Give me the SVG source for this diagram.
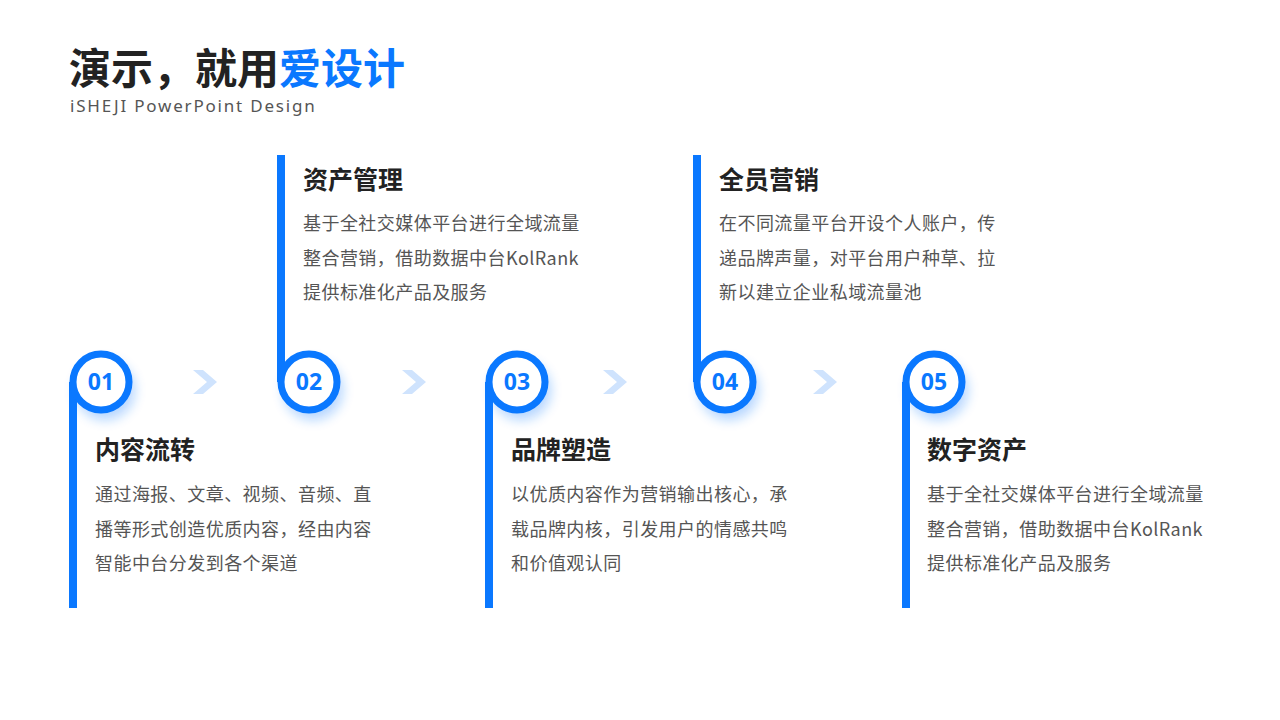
<svg xmlns="http://www.w3.org/2000/svg" width="1280" height="720" viewBox="0 0 1280 720">
<defs>
<style>
.t{font-family:"Noto Sans CJK SC","Noto Sans",sans-serif;font-weight:700;font-size:25px;fill:#222}
.b{font-family:"Noto Sans CJK SC","Noto Sans",sans-serif;font-size:18px;fill:#555;letter-spacing:0.45px}
.n{font-family:"Noto Sans","Noto Sans CJK SC",sans-serif;font-weight:700;font-size:23px;fill:#0a78ff}
.ring{fill:#fff;stroke:#0a78ff;stroke-width:7}
.bar{fill:#0a78ff}
.chev{fill:#cfe3fd}
</style>
<filter id="sh" x="-50%" y="-50%" width="200%" height="200%"><feGaussianBlur stdDeviation="6"/></filter>
</defs>
<rect width="1280" height="720" fill="#fff"/>
<text x="69" y="84" font-family="Noto Sans CJK SC,sans-serif" font-weight="700" font-size="42" fill="#222">演示，就用<tspan fill="#0a78ff">爱设计</tspan></text>
<text x="70" y="112" font-family="Noto Sans,sans-serif" font-size="17" fill="#555" letter-spacing="1.8">iSHEJI PowerPoint Design</text>
<g id="connectors">
<path class="chev" d="M193,370 h10 l14,12 l-14,12 h-10 l14,-12 z"/>
<path class="chev" d="M402,370 h10 l14,12 l-14,12 h-10 l14,-12 z"/>
<path class="chev" d="M603,370 h10 l14,12 l-14,12 h-10 l14,-12 z"/>
<path class="chev" d="M813,370 h10 l14,12 l-14,12 h-10 l14,-12 z"/>
</g>
<g id="n1">
<circle cx="105" cy="390" r="30" fill="#0a78ff" opacity="0.3" filter="url(#sh)"/>
<rect class="bar" x="69" y="382" width="8" height="226"/>
<circle class="ring" cx="101" cy="382" r="28"/>
<text class="n" x="101" y="390" text-anchor="middle">01</text>
<text class="t" x="95" y="459">内容流转</text>
<text class="b" x="95" y="501">通过海报、文章、视频、音频、直</text>
<text class="b" x="95" y="536">播等形式创造优质内容，经由内容</text>
<text class="b" x="95" y="570">智能中台分发到各个渠道</text>
</g>
<g id="n2">
<circle cx="313" cy="390" r="30" fill="#0a78ff" opacity="0.3" filter="url(#sh)"/>
<rect class="bar" x="277" y="155" width="8" height="227"/>
<circle class="ring" cx="309" cy="382" r="28"/>
<text class="n" x="309" y="390" text-anchor="middle">02</text>
<text class="t" x="303" y="189">资产管理</text>
<text class="b" x="303" y="230">基于全社交媒体平台进行全域流量</text>
<text class="b" x="303" y="265">整合营销，借助数据中台KolRank</text>
<text class="b" x="303" y="299">提供标准化产品及服务</text>
</g>
<g id="n3">
<circle cx="521" cy="390" r="30" fill="#0a78ff" opacity="0.3" filter="url(#sh)"/>
<rect class="bar" x="485" y="382" width="8" height="226"/>
<circle class="ring" cx="517" cy="382" r="28"/>
<text class="n" x="517" y="390" text-anchor="middle">03</text>
<text class="t" x="511" y="459">品牌塑造</text>
<text class="b" x="511" y="501">以优质内容作为营销输出核心，承</text>
<text class="b" x="511" y="536">载品牌内核，引发用户的情感共鸣</text>
<text class="b" x="511" y="570">和价值观认同</text>
</g>
<g id="n4">
<circle cx="729" cy="390" r="30" fill="#0a78ff" opacity="0.3" filter="url(#sh)"/>
<rect class="bar" x="693" y="155" width="8" height="227"/>
<circle class="ring" cx="725" cy="382" r="28"/>
<text class="n" x="725" y="390" text-anchor="middle">04</text>
<text class="t" x="719" y="189">全员营销</text>
<text class="b" x="719" y="230">在不同流量平台开设个人账户，传</text>
<text class="b" x="719" y="265">递品牌声量，对平台用户种草、拉</text>
<text class="b" x="719" y="299">新以建立企业私域流量池</text>
</g>
<g id="n5">
<circle cx="938" cy="390" r="30" fill="#0a78ff" opacity="0.3" filter="url(#sh)"/>
<rect class="bar" x="902" y="382" width="8" height="226"/>
<circle class="ring" cx="934" cy="382" r="28"/>
<text class="n" x="934" y="390" text-anchor="middle">05</text>
<text class="t" x="927" y="459">数字资产</text>
<text class="b" x="927" y="501">基于全社交媒体平台进行全域流量</text>
<text class="b" x="927" y="536">整合营销，借助数据中台KolRank</text>
<text class="b" x="927" y="570">提供标准化产品及服务</text>
</g>
</svg>
